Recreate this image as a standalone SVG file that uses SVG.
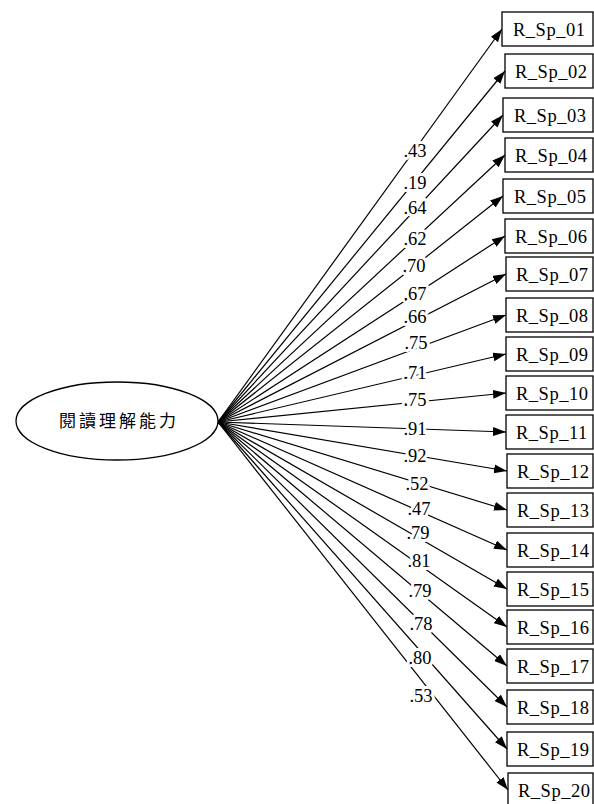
<svg xmlns="http://www.w3.org/2000/svg" width="594" height="804" viewBox="0 0 594 804">
<style>
.box{fill:#fff;stroke:#000;stroke-width:1.3}
.bt{font-family:"Liberation Serif",serif;font-size:18.5px;fill:#000;letter-spacing:0.5px}
.lb{font-family:"Liberation Serif",serif;font-size:18.5px;fill:#000;text-anchor:middle;stroke:#fff;stroke-width:6;paint-order:stroke;stroke-linejoin:round}
.ln{stroke:#000;stroke-width:1.2;fill:none;marker-end:url(#ah)}
.el{fill:#fff;stroke:#000;stroke-width:1.3}
.et{font-family:"Noto Sans CJK TC","Noto Sans CJK SC",sans-serif;font-size:17px;fill:#000;text-anchor:middle;letter-spacing:3px}
</style>
<defs>
<marker id="ah" markerUnits="userSpaceOnUse" markerWidth="14" markerHeight="10" refX="13" refY="4.5" orient="auto">
<path d="M0,0 L13,4.5 L0,9 z" fill="#000"/>
</marker>
</defs>
<rect width="594" height="804" fill="#fff"/>
<g id="connectors">
<line class="ln" x1="218" y1="422" x2="502" y2="29"/>
<line class="ln" x1="218" y1="422" x2="505" y2="71"/>
<line class="ln" x1="218" y1="422" x2="503" y2="115"/>
<line class="ln" x1="218" y1="422" x2="505" y2="155"/>
<line class="ln" x1="218" y1="422" x2="503" y2="196"/>
<line class="ln" x1="218" y1="422" x2="505" y2="236"/>
<line class="ln" x1="218" y1="422" x2="506" y2="274"/>
<line class="ln" x1="218" y1="422" x2="506" y2="315"/>
<line class="ln" x1="218" y1="422" x2="506" y2="354"/>
<line class="ln" x1="218" y1="422" x2="506" y2="393"/>
<line class="ln" x1="218" y1="422" x2="506" y2="432"/>
<line class="ln" x1="218" y1="422" x2="507" y2="471"/>
<line class="ln" x1="218" y1="422" x2="507" y2="510"/>
<line class="ln" x1="218" y1="422" x2="507" y2="550"/>
<line class="ln" x1="218" y1="422" x2="507" y2="589"/>
<line class="ln" x1="218" y1="422" x2="507" y2="627"/>
<line class="ln" x1="218" y1="422" x2="507" y2="666"/>
<line class="ln" x1="218" y1="422" x2="507" y2="707"/>
<line class="ln" x1="218" y1="422" x2="507" y2="749"/>
<line class="ln" x1="218" y1="422" x2="508" y2="790"/>
</g>
<g id="labels">
<text class="lb" x="415" y="157">.43</text>
<text class="lb" x="415" y="189">.19</text>
<text class="lb" x="415" y="214">.64</text>
<text class="lb" x="415" y="245">.62</text>
<text class="lb" x="414" y="272">.70</text>
<text class="lb" x="415" y="300">.67</text>
<text class="lb" x="415" y="323">.66</text>
<text class="lb" x="416" y="349">.75</text>
<text class="lb" x="415" y="379">.71</text>
<text class="lb" x="415" y="406">.75</text>
<text class="lb" x="415" y="435">.91</text>
<text class="lb" x="415" y="462">.92</text>
<text class="lb" x="417" y="490">.52</text>
<text class="lb" x="419" y="515">.47</text>
<text class="lb" x="418" y="539">.79</text>
<text class="lb" x="419" y="567">.81</text>
<text class="lb" x="420" y="597">.79</text>
<text class="lb" x="421" y="630">.78</text>
<text class="lb" x="420" y="664">.80</text>
<text class="lb" x="421" y="702">.53</text>
</g>
<g id="latent">
<ellipse class="el" cx="117" cy="421" rx="101" ry="39"/>
<text class="et" x="119" y="427">閱讀理解能力</text>
</g>
<g id="n01"><rect class="box" x="502" y="12" width="91" height="34"/><text class="bt" x="513" y="36">R_Sp_01</text></g>
<g id="n02"><rect class="box" x="505" y="54" width="88" height="34"/><text class="bt" x="515" y="78">R_Sp_02</text></g>
<g id="n03"><rect class="box" x="503" y="98" width="90" height="34"/><text class="bt" x="514" y="122">R_Sp_03</text></g>
<g id="n04"><rect class="box" x="505" y="138" width="88" height="34"/><text class="bt" x="515" y="162">R_Sp_04</text></g>
<g id="n05"><rect class="box" x="503" y="179" width="90" height="34"/><text class="bt" x="514" y="203">R_Sp_05</text></g>
<g id="n06"><rect class="box" x="505" y="219" width="88" height="34"/><text class="bt" x="515" y="243">R_Sp_06</text></g>
<g id="n07"><rect class="box" x="506" y="257" width="87" height="34"/><text class="bt" x="516" y="281">R_Sp_07</text></g>
<g id="n08"><rect class="box" x="506" y="298" width="87" height="34"/><text class="bt" x="516" y="322">R_Sp_08</text></g>
<g id="n09"><rect class="box" x="506" y="337" width="87" height="34"/><text class="bt" x="516" y="361">R_Sp_09</text></g>
<g id="n10"><rect class="box" x="506" y="376" width="87" height="34"/><text class="bt" x="516" y="400">R_Sp_10</text></g>
<g id="n11"><rect class="box" x="506" y="415" width="87" height="34"/><text class="bt" x="516" y="439">R_Sp_11</text></g>
<g id="n12"><rect class="box" x="507" y="454" width="86" height="34"/><text class="bt" x="517" y="478">R_Sp_12</text></g>
<g id="n13"><rect class="box" x="507" y="493" width="86" height="34"/><text class="bt" x="517" y="517">R_Sp_13</text></g>
<g id="n14"><rect class="box" x="507" y="533" width="86" height="34"/><text class="bt" x="517" y="557">R_Sp_14</text></g>
<g id="n15"><rect class="box" x="507" y="572" width="86" height="34"/><text class="bt" x="517" y="596">R_Sp_15</text></g>
<g id="n16"><rect class="box" x="507" y="610" width="86" height="34"/><text class="bt" x="517" y="634">R_Sp_16</text></g>
<g id="n17"><rect class="box" x="507" y="649" width="86" height="34"/><text class="bt" x="517" y="673">R_Sp_17</text></g>
<g id="n18"><rect class="box" x="507" y="690" width="86" height="34"/><text class="bt" x="517" y="714">R_Sp_18</text></g>
<g id="n19"><rect class="box" x="507" y="732" width="86" height="34"/><text class="bt" x="517" y="756">R_Sp_19</text></g>
<g id="n20"><rect class="box" x="508" y="773" width="85" height="34"/><text class="bt" x="518" y="797">R_Sp_20</text></g>
</svg>
